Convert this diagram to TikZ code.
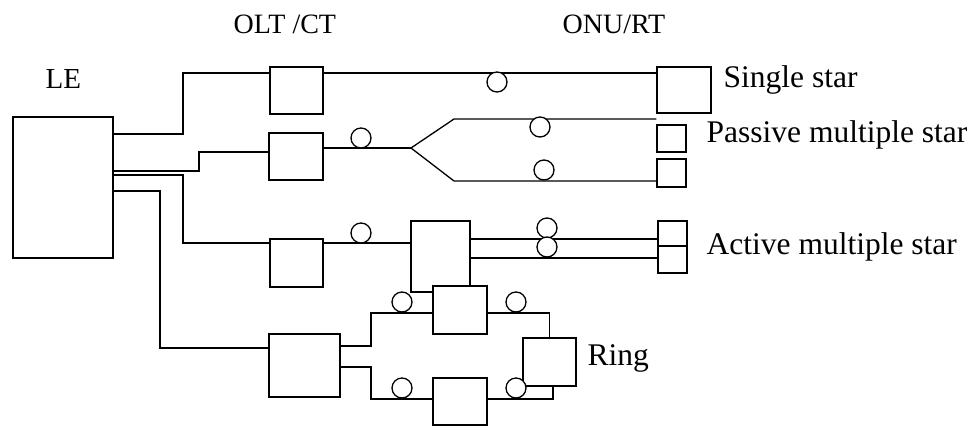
\documentclass[tikz,border=0pt]{standalone}
\usepackage{fontspec}
\setmainfont{Liberation Serif}
\newcommand{\headSize}[0]{\fontsize{28}{32}\selectfont}
\newcommand{\labelSize}[0]{\fontsize{31.5}{36}\selectfont}

\begin{document}
\begin{tikzpicture}[x=1pt, y=-1pt, line width=1.3pt]
  \tikzset{unit/.style={draw, rectangle, fill=white, inner sep=0pt, line width=1.4pt},
           fibre/.style={draw, circle, fill=white, inner sep=0pt, minimum size=20pt},
           head/.style={anchor=base west, inner sep=0pt, font=\headSize},
           tag/.style={anchor=base west, inner sep=0pt, font=\labelSize}}
  \useasboundingbox (0,0) rectangle (979,426);

  \node[head, font=\fontsize{29}{32}\selectfont] (le-tag) at (45,88) {LE};
  \node[head] (olt-tag) at (233,33) {OLT /CT};
  \node[head] (onu-tag) at (562,33) {ONU/RT};

  \node[unit, minimum width=100pt, minimum height=141pt] (le) at (63,187.5) {};
  % single star
  \node[unit, minimum width=53pt, minimum height=47pt] (olt1) at (296.5,90.5) {};
  \node[unit, minimum width=54pt, minimum height=46pt] (onu1) at (684,90) {};
  % passive multiple star
  \node[unit, minimum width=54pt, minimum height=47pt] (olt2) at (296,156.5) {};
  \node[unit, minimum width=29pt, minimum height=27pt] (onu2a) at (671.5,138.5) {};
  \node[unit, minimum width=29pt, minimum height=28pt] (onu2b) at (671.5,173) {};
  % active multiple star
  \node[unit, minimum width=53pt, minimum height=48pt] (olt3) at (296.5,263) {};
  \node[unit, minimum width=59pt, minimum height=71pt] (an3) at (440.5,256.5) {};
  \node[unit, minimum width=29pt, minimum height=25pt] (onu3a) at (672.5,233.5) {};
  \node[unit, minimum width=29pt, minimum height=27pt] (onu3b) at (672.5,259.5) {};
  % ring
  \node[unit, minimum width=71pt, minimum height=63pt] (olt4) at (304.5,365.5) {};
  \node[unit, minimum width=54pt, minimum height=48pt] (rn4a) at (460,310) {};
  \node[unit, minimum width=54pt, minimum height=47pt] (rn4b) at (460,401.5) {};
  \node[unit, minimum width=53pt, minimum height=48pt] (onu4) at (549.5,362) {};

  \node[tag] (single-tag) at (723,87) {Single star};
  \node[tag] (passive-tag) at (706,142) {Passive multiple star};
  \node[tag] (active-tag) at (706,254) {Active multiple star};
  \node[tag] (ring-tag) at (587,365) {Ring};

  \draw (le.east |- 0,134) -| (183,73) -- (olt1.west |- 0,73);
  \draw (olt1.east |- 0,73) -- (onu1.west |- 0,73);

  \draw (le.east |- 0,171) -| (199,152) -- (olt2.west |- 0,152);
  \draw (olt2.east |- 0,148) -- (411,148) coordinate (split);
  \draw (split) -- (454,119) -- (onu2a.west |- 0,119);
  \draw (split) -- (454,181) -- (onu2b.west |- 0,181);

  \draw (le.east |- 0,175) -| (183,243) -- (olt3.west |- 0,243);
  \draw (olt3.east |- 0,243) -- (an3.west |- 0,243);
  \draw (an3.east |- 0,239) -- (onu3a.west |- 0,239);
  \draw (an3.east |- 0,258) -- (onu3b.west |- 0,258);

  \draw (le.east |- 0,191) -| (160,348) -- (olt4.west |- 0,348);
  \draw (olt4.east |- 0,346) -| (371,313) -- (rn4a.west |- 0,313);
  \draw (rn4a.east |- 0,313) -| (onu4.north);
  \draw (olt4.east |- 0,367) -| (371,399) -- (rn4b.west |- 0,399);
  \draw (rn4b.east |- 0,399) -| (onu4.south -| 553,0);

  \node[fibre] (f1) at (497,82) {};
  \node[fibre] (f2) at (361,138) {};
  \node[fibre] (f2a) at (540,127) {};
  \node[fibre] (f2b) at (544,170) {};
  \node[fibre] (f3) at (361,233) {};
  \node[fibre] (f3a) at (547,228) {};
  \node[fibre] (f3b) at (547,247) {};
  \node[fibre] (f4a) at (402,302) {};
  \node[fibre] (f4b) at (516,302) {};
  \node[fibre] (f4c) at (402,388) {};
  \node[fibre] (f4d) at (516,388) {};
\end{tikzpicture}
\end{document}
